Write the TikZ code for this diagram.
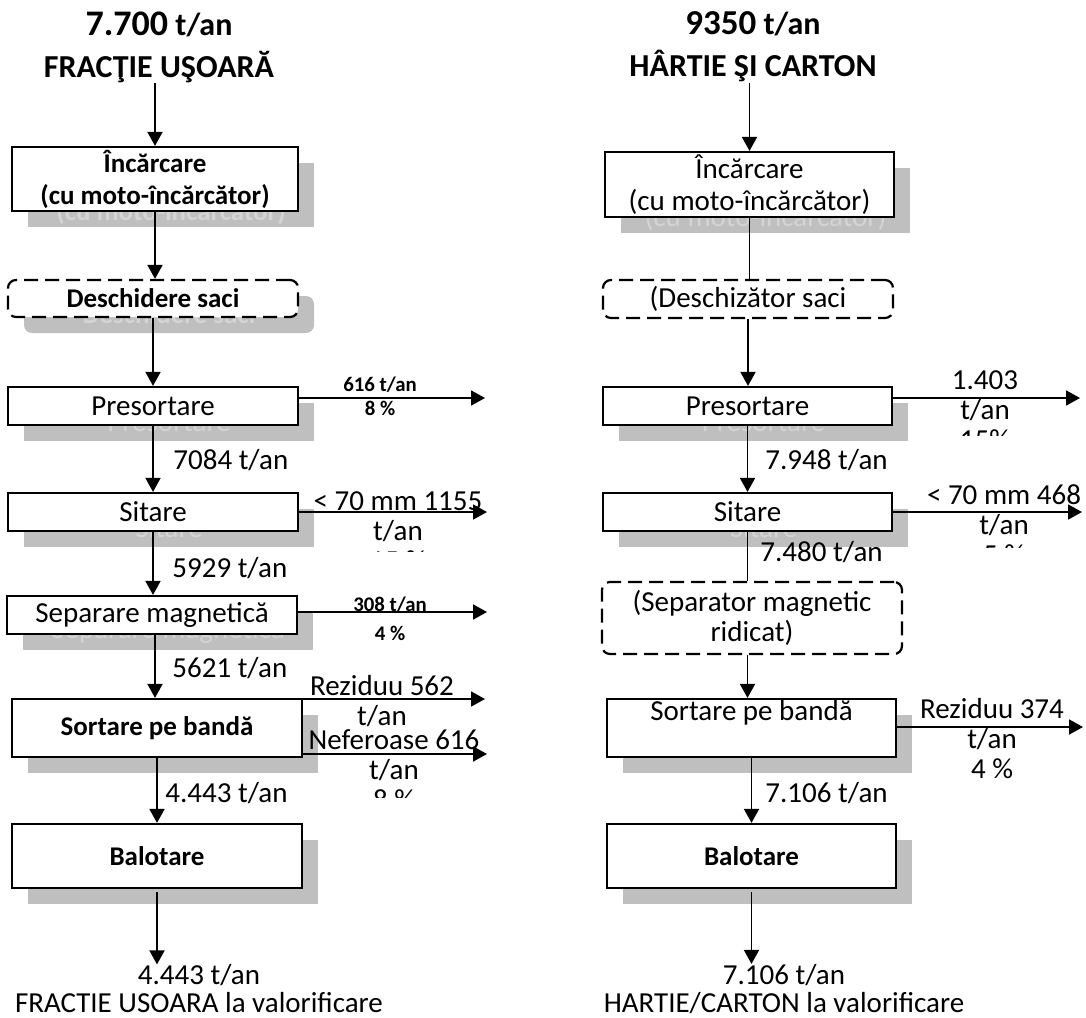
\documentclass[tikz,border=0pt]{standalone}
\usepackage{fontspec}
\setmainfont{Carlito}
\usetikzlibrary{arrows.meta, positioning, backgrounds}
\definecolor{shadegray}{RGB}{191, 191, 191}
\definecolor{ghostgray}{RGB}{212, 212, 212}

\tikzset{
	procbox/.style={draw, fill=white, line width=1.1pt, align=center,
		inner sep=0pt, minimum width=145pt},
	dashbox/.style={procbox, rounded corners=4pt, dash pattern=on 7pt off 3.5pt},
	shadebox/.style={fill=shadegray, text=ghostgray, align=center,
		inner sep=0pt, minimum width=145pt},
	flow/.style={line width=0.9pt, -{Triangle[length=7pt, width=7.5pt]}},
	link/.style={line width=0.9pt},
	qty/.style={anchor=west, inner sep=0pt},
	boldtxt/.style={font=\fontsize{13.5}{16}\selectfont\bfseries},
	smalllbl/.style={font=\fontsize{10.4}{12}\selectfont\bfseries, align=center, inner sep=0pt},
	sidelbl/.style={align=center, inner sep=0pt},
	titlelbl/.style={font=\fontsize{16}{21}\selectfont\bfseries, align=center, inner sep=0pt},
}

\begin{document}
\begin{tikzpicture}[x=0.5pt, y=-0.5pt, font=\fontsize{14.5}{15}\selectfont]
	\useasboundingbox (0,0) rectangle (1086,1017);
	% ---------- left column: fractie usoara
	\node[titlelbl] (tit1) at (159,47)
	{{\fontsize{18}{21}\selectfont 7.700} t/an\\FRACŢIE UŞOARĂ};
	\node[procbox, boldtxt, minimum width=143pt, minimum height=32pt] (inc1) at (155,179)
	{Încărcare\\(cu moto-încărcător)};
	\node[dashbox, boldtxt, minimum height=18.5pt] (des1) at (153,298.5) {Deschidere saci};
	\node[procbox, minimum height=19pt] (pre1) at (153,406) {Presortare};
	\node[procbox, minimum height=19pt] (sit1) at (153,512) {Sitare};
	\node[procbox, minimum height=19pt] (sep1) at (152,615) {Separare magnetică};
	\node[procbox, boldtxt, minimum height=29pt] (sor1) at (157,728) {Sortare pe bandă};
	\node[procbox, boldtxt, minimum height=32pt] (bal1) at (157,856) {Balotare};
	\node[sidelbl, font=\fontsize{14.5}{14}\selectfont] (out1) at (199,989)
	{4.443 t/an\\FRACTIE USOARA la valorificare};
	% quantities between the steps
	\node[qty] (q11) at (173,460) {7084 t/an};
	\node[qty] (q12) at (172,568) {5929 t/an};
	\node[qty] (q13) at (172,668) {5621 t/an};
	\node[qty] (q14) at (165,793) {4.443 t/an};
	% side outputs
	\node[smalllbl] (pre1l) at (380,396) {616 t/an\\8 \%};
	\begin{scope}
		\clip (300,478) rectangle (495,551);
		\node[sidelbl] (sit1l) at (398,531) {< 70 mm 1155\\t/an\\15 \%};
	\end{scope}
	\node[smalllbl, font=\fontsize{10.4}{14.5}\selectfont\bfseries] (sep1l) at (390,619) {308 t/an\\4 \%};
	\node[sidelbl] (sor1la) at (382,701) {Reziduu 562\\t/an};
	\begin{scope}
		\clip (300,727) rectangle (495,797);
		\node[sidelbl] (sor1lb) at (394,770) {Neferoase 616\\t/an\\8 \%};
	\end{scope}
	\coordinate (pre1r) at (485,398);
	\coordinate (sit1r) at (487,512);
	\coordinate (sep1r) at (487,612);
	\coordinate (sor1ra) at (485,699);
	\coordinate (sor1rb) at (487,754);
	% ---------- right column: hartie si carton
	\node[titlelbl] (tit2) at (753,47)
	{{\fontsize{17.5}{21}\selectfont 9350} t/an\\HÂRTIE ŞI CARTON};
	\node[procbox, minimum width=144.5pt, minimum height=32.5pt, font=\fontsize{14.5}{16}\selectfont]
	(inc2) at (749.5,184.5) {Încărcare\\(cu moto-încărcător)};
	\node[dashbox, minimum height=19pt] (des2) at (748,299) {(Deschizător saci};
	\node[procbox, minimum width=144.5pt, minimum height=19pt] (pre2) at (747.5,406) {Presortare};
	\node[procbox, minimum width=144.5pt, minimum height=19pt] (sit2) at (747.5,512) {Sitare};
	\node[dashbox, minimum width=150pt, minimum height=36pt] (sep2) at (752,618)
	{(Separator magnetic\\ridicat)};
	\node[procbox, minimum width=144.5pt, minimum height=29pt, text height=10.5pt, text depth=18.5pt]
	(sor2) at (751.5,728) {Sortare pe bandă};
	\node[procbox, boldtxt, minimum width=144.5pt, minimum height=32pt] (bal2) at (751.5,856) {Balotare};
	\node[sidelbl, font=\fontsize{14.5}{14}\selectfont] (out2) at (784,989)
	{7.106 t/an\\HARTIE/CARTON la valorificare};
	% quantities between the steps
	\node[qty] (q21) at (765,460) {7.948 t/an};
	\node[qty] (q22) at (760,552) {7.480 t/an};
	\node[qty] (q23) at (765,793) {7.106 t/an};
	% side outputs
	\begin{scope}
		\clip (925,355) rectangle (1050,435);
		\node[sidelbl] (pre2l) at (985,410) {1.403\\t/an\\15\%};
	\end{scope}
	\begin{scope}
		\clip (915,475) rectangle (1086,547);
		\node[sidelbl] (sit2l) at (1004,525) {< 70 mm 468\\t/an\\5 \%};
	\end{scope}
	\node[sidelbl] (sor2l) at (992,739) {Reziduu 374\\t/an\\4 \%};
	\coordinate (pre2r) at (1080,398);
	\coordinate (sit2r) at (1082,512);
	\coordinate (sor2r) at (1083,727);
	% ---------- shadows behind the boxes
	\begin{scope}[on background layer]
		\node[shadebox, boldtxt, minimum width=143pt, minimum height=32pt]
		at ([shift={(16,16)}]inc1.center) {Încărcare\\(cu moto-încărcător)};
		\node[shadebox, boldtxt, rounded corners=4pt, minimum height=18.5pt]
		at ([shift={(16,16)}]des1.center) {Deschidere saci};
		\node[shadebox, minimum height=19pt] at ([shift={(16,16)}]pre1.center) {Presortare};
		\node[shadebox, minimum height=19pt] at ([shift={(16,16)}]sit1.center) {Sitare};
		\node[shadebox, minimum height=19pt] at ([shift={(16,16)}]sep1.center) {Separare magnetică};
		\node[shadebox, boldtxt, minimum height=29pt] at ([shift={(16,16)}]sor1.center) {Sortare pe bandă};
		\node[shadebox, boldtxt, minimum height=32pt] at ([shift={(16,16)}]bal1.center) {Balotare};
		\node[shadebox, minimum width=144.5pt, minimum height=32.5pt, font=\fontsize{14.5}{16}\selectfont]
		at ([shift={(16,16)}]inc2.center) {Încărcare\\(cu moto-încărcător)};
		\node[shadebox, minimum width=144.5pt, minimum height=19pt] at ([shift={(16,16)}]pre2.center) {Presortare};
		\node[shadebox, minimum width=144.5pt, minimum height=19pt] at ([shift={(16,16)}]sit2.center) {Sitare};
		\node[shadebox, minimum width=144.5pt, minimum height=29pt, text height=10.5pt, text depth=18.5pt]
		at ([shift={(16,16)}]sor2.center) {Sortare pe bandă};
		\node[shadebox, boldtxt, minimum width=144.5pt, minimum height=32pt]
		at ([shift={(16,16)}]bal2.center) {Balotare};
	\end{scope}
	% ---------- connectors, left
	\draw[flow] (inc1.north |- tit1.south) -- (inc1.north);
	\draw[flow] (inc1.south) -- (inc1.south |- des1.north);
	\draw[flow] (des1.south) -- (des1.south |- pre1.north);
	\draw[flow] (pre1.south) -- (pre1.south |- sit1.north);
	\draw[flow] (sit1.south) -- (sit1.south |- sep1.north);
	\draw[flow] ([xshift=1.5pt]sep1.south) -- ([xshift=1.5pt]sep1.south |- sor1.north);
	\draw[flow] (sor1.south) -- (bal1.north);
	\draw[flow] ([yshift=-1.5pt]bal1.south) -- (bal1.south |- out1.north);
	\draw[flow] (pre1r -| pre1.east) -- (pre1r);
	\draw[flow] (sit1r -| sit1.east) -- (sit1r);
	\draw[flow] (sep1r -| sep1.east) -- (sep1r);
	\draw[flow] (sor1ra -| sor1.east) -- (sor1ra);
	\draw[flow] (sor1rb -| sor1.east) -- (sor1rb);
	% ---------- connectors, right
	\draw[flow] (inc2.north |- tit2.south) -- (inc2.north);
	\draw[link] (inc2.south) -- (inc2.south |- des2.north);
	\draw[flow] (des2.south) -- (des2.south |- pre2.north);
	\draw[flow] (pre2.south) -- (pre2.south |- sit2.north);
	\draw[link] (sit2.south) -- (sit2.south |- sep2.north);
	\draw[flow] (sep2.south -| sit2.south) -- (sit2.south |- sor2.north);
	\draw[flow] (sor2.south) -- (bal2.north);
	\draw[flow] ([yshift=-1.5pt]bal2.south) -- (bal2.south |- out2.north);
	\draw[flow] (pre2r -| pre2.east) -- (pre2r);
	\draw[flow] (sit2r -| sit2.east) -- (sit2r);
	\draw[flow] (sor2r -| sor2.east) -- (sor2r);
\end{tikzpicture}
\end{document}
